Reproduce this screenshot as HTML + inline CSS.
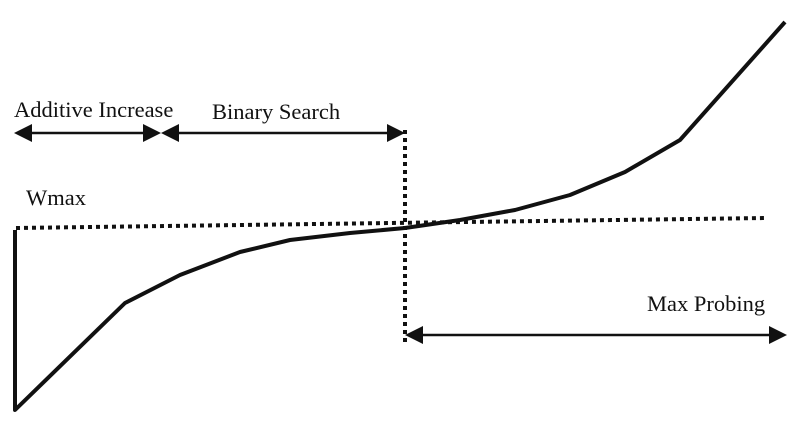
<!DOCTYPE html>
<html><head><style>body{margin:0;background:#fff}svg{display:block}</style></head><body>
<svg width="800" height="426" viewBox="0 0 800 426" xmlns="http://www.w3.org/2000/svg" font-family="Liberation Serif, serif" font-size="22.5" fill="#111">
<text x="14" y="117">Additive Increase</text>
<text x="212" y="119">Binary Search</text>
<text x="26" y="205">Wmax</text>
<text x="647" y="311">Max Probing</text>
<g stroke="#111" stroke-width="2.5">
<line x1="24" y1="133" x2="152" y2="133"/>
<line x1="170" y1="133" x2="396" y2="133"/>
<line x1="414" y1="335" x2="778" y2="335"/>
</g>
<g fill="#111">
<polygon points="14,133 32,124 32,142"/>
<polygon points="161,133 143,124 143,142"/>
<polygon points="161,133 179,124 179,142"/>
<polygon points="405,133 387,124 387,142"/>
<polygon points="405,335 423,326 423,344"/>
<polygon points="787,335 769,326 769,344"/>
</g>
<g stroke="#111" stroke-width="4" stroke-dasharray="4,4" fill="none">
<line x1="405" y1="130" x2="405" y2="346"/>
<line x1="16" y1="228" x2="766" y2="218"/>
</g>
<polyline fill="none" stroke="#111" stroke-width="4" stroke-linejoin="round" points="15,230 15,410 125,303 180,275 240,252 290,240 350,233 405,228 460,220 515,210 570,195 625,172 680,140 785,22"/>
</svg>
</body></html>
